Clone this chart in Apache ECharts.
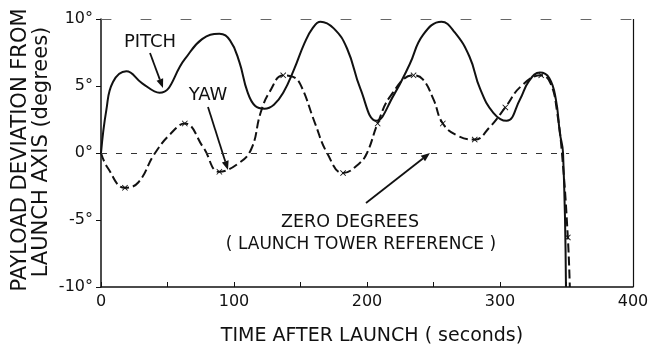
<!DOCTYPE html>
<html><head><meta charset="utf-8">
<script src="https://cdn.jsdelivr.net/npm/echarts@6/dist/echarts.min.js"></script>
<style>html,body{margin:0;padding:0;background:#fff}#c{width:653px;height:355px}</style>
</head><body><div id="c"></div>
<script>
// Time after launch (seconds) and deviation (degrees)
const pitchT = [0,4,9,19,31,44,63,76,89,97,104,110,116,123,130,137,145,153,159,165,175,185,195,207,220,232,242,256,266,277,285,295,305,315,322,330,337,342,345,347.4,349.6];
const pitchV = [0,3.2,5.3,6.1,5.2,4.5,7.0,8.5,8.9,8.4,6.8,4.6,3.5,3.3,3.6,4.5,6.2,8.2,9.3,9.8,9.3,7.8,4.8,2.4,4.3,6.6,8.8,9.8,9.0,7.2,4.8,3.0,2.4,4.0,5.4,6.0,5.6,4.0,1.5,0,-10];
const yawT = [0,5,18,28,40,52,63,77,89,103,113,120,127,137,144,150,161,170,182,194,200,208,218,235,242,250,257,268,281,292,304,316,331,338,343,347,351,352.5];
const yawV = [0,-1.1,-2.6,-2.2,-0.1,1.4,2.2,0.4,-1.4,-0.8,0.3,3.0,4.6,5.8,5.7,5.1,2.2,0,-1.5,-0.8,0,2.2,4.3,5.8,5.5,4.0,2.2,1.3,1.0,1.9,3.4,5.0,5.8,5.2,3.0,-0.5,-6.3,-10];
const yawMarked = [0,0,1,0,0,0,1,0,1,0,0,0,0,1,0,0,0,0,1,0,0,1,0,1,0,0,1,0,1,0,1,0,1,0,0,0,1,0];
const xTicks = [0,100,200,300,400];
const yTickLabels = {'10':'10°','5':'5°','0':'0°','-5':'-5°','-10':'-10°'};
const zeroLineEnd = 352;
const frameRight = 400;

const FONT = 'DejaVu Sans';
const INK = '#111';
const xMark = 'path://M0,1L1,0L5,4L9,0L10,1L6,5L10,9L9,10L5,6L1,10L0,9L4,5Z';

const pitchData = pitchT.map((t,i)=>[t,pitchV[i]]);
const yawData = yawT.map((t,i)=> yawMarked[i] ? {value:[t,yawV[i]]} : {value:[t,yawV[i]], symbol:'none'});

function arrow(x1,y1,x2,y2){
  const a = Math.atan2(y2-y1,x2-x1), L=9, W=3.5;
  const bx = x2 - L*Math.cos(a), by = y2 - L*Math.sin(a);
  const px = -Math.sin(a)*W, py = Math.cos(a)*W;
  return [
    {type:'line', shape:{x1:x1,y1:y1,x2:bx,y2:by}, style:{stroke:INK,lineWidth:1.8}},
    {type:'polygon', shape:{points:[[x2,y2],[bx+px,by+py],[bx-px,by-py]]}, style:{fill:INK}}
  ];
}
function txt(x,y,s,size,rot){
  const o = {type:'text', x:x, y:y, style:{text:s, font:'normal '+size+'px "'+FONT+'"', fill:INK, align:'center', verticalAlign:'middle'}};
  if(rot){o.rotation=rot;}
  return o;
}

const chart = echarts.init(document.getElementById('c'));
chart.setOption({
  animation:false,
  backgroundColor:'#fff',
  grid:{left:101,right:20,top:19,bottom:68},
  xAxis:[{
    type:'value', min:0, max:400, interval:50,
    axisLine:{onZero:false,lineStyle:{color:INK,width:1.5}},
    axisTick:{inside:true,length:5,lineStyle:{color:INK,width:1}},
    axisLabel:{color:INK,fontFamily:FONT,fontSize:16,margin:7,
      formatter:v=> xTicks.indexOf(v)>=0 ? String(v) : ''},
    splitLine:{show:false}
  },{
    type:'value', position:'top', min:0, max:400,
    axisLine:{show:true,onZero:false,lineStyle:{color:'#666',width:1,type:[10,30]}},
    axisTick:{show:false}, axisLabel:{show:false}, splitLine:{show:false}
  }],
  yAxis:[{
    type:'value', min:-10, max:10, interval:5,
    axisLine:{show:true,onZero:false,lineStyle:{color:INK,width:1.5}},
    axisTick:{show:true,length:5,lineStyle:{color:INK,width:1}},
    axisLabel:{color:INK,fontFamily:FONT,fontSize:16,margin:8,
      formatter:v=> yTickLabels[String(v)] || ''},
    splitLine:{show:false}
  }],
  series:[{
    name:'PITCH', type:'line', data:pitchData, smooth:0.45,
    showSymbol:false, lineStyle:{color:INK,width:2},
    markLine:{silent:true, symbol:['none','none'], label:{show:false},
      data:[
        [{coord:[0,0],lineStyle:{color:'#333',width:1,type:[6,9]}},{coord:[zeroLineEnd,0]}],
        {xAxis:frameRight,lineStyle:{color:INK,width:1.2,type:'solid'}}
      ]}
  },{
    name:'YAW', type:'line', data:yawData, smooth:0.45,
    symbol:xMark, symbolSize:6, itemStyle:{color:INK},
    lineStyle:{color:INK,width:2,type:[9,4]}
  }],
  graphic:[].concat(
    [txt(150,42,'PITCH',18), txt(208,95,'YAW',18),
     txt(350,222,'ZERO DEGREES',17.5), txt(361,245,'( LAUNCH TOWER REFERENCE )',17),
     txt(372,336,'TIME AFTER LAUNCH ( seconds)',19),
     txt(21,150,'PAYLOAD DEVIATION FROM',21,Math.PI/2),
     txt(42,152,'LAUNCH AXIS (degrees)',21,Math.PI/2)],
    arrow(150,53,163,88), arrow(208,107,228,170), arrow(366,203,430,153)
  )
});
</script></body></html>
